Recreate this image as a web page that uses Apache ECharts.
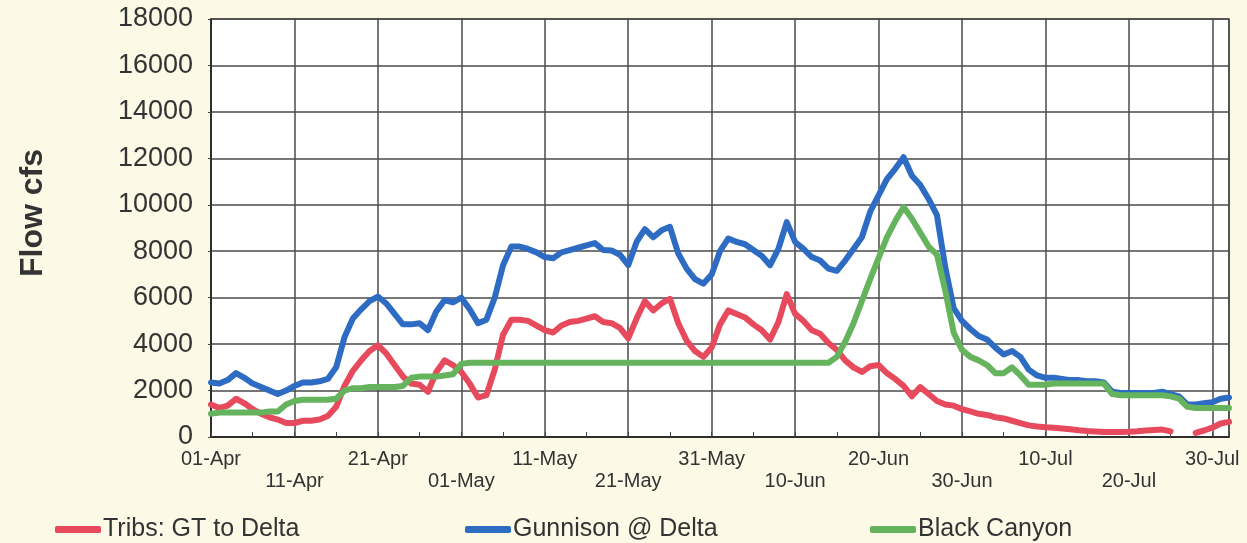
<!DOCTYPE html>
<html><head><meta charset="utf-8">
<script src="https://cdn.jsdelivr.net/npm/echarts@6/dist/echarts.min.js"></script>
<style>html,body{margin:0;padding:0;background:#fcf9e6;}#c{width:1247px;height:543px;}</style>
</head><body><div id="c"></div>
<script>
// x tick labels every 10 days starting 01-Apr (day index 0)
const xTickLabels = ['01-Apr','11-Apr','21-Apr','01-May','11-May','21-May','31-May','10-Jun','20-Jun','30-Jun','10-Jul','20-Jul','30-Jul'];
const seriesNames = ['Tribs: GT to Delta','Gunnison @ Delta','Black Canyon'];

// daily flow (cfs), day 0 = 01-Apr
const tribsGTtoDelta = [
1400,1250,1350,1650,1450,1200,1000,850,750,600,
600,700,700,750,900,1300,2200,2850,3300,3700,
3950,3600,3100,2600,2300,2250,1950,2800,3300,3100,
2800,2300,1700,1800,2900,4400,5050,5050,5000,4800,
4600,4500,4800,4950,5000,5100,5200,4950,4900,4700,
4250,5100,5850,5450,5750,5950,4900,4150,3700,3450,
3850,4850,5450,5300,5150,4850,4600,4200,4950,6150,
5300,5000,4600,4450,4050,3750,3300,3000,2800,3050,
3100,2750,2500,2200,1750,2150,1850,1550,1400,1350,
1200,1100,1000,950,850,800,700,600,500,450,
420,400,370,330,290,260,240,220,220,220,
230,250,280,300,320,240,null,null,180,280,
400,580,650
];
const gunnisonAtDelta = [
2350,2300,2450,2750,2550,2300,2150,2000,1850,2000,
2200,2350,2350,2400,2500,3000,4300,5100,5500,5850,
6050,5750,5300,4850,4850,4900,4600,5400,5900,5800,
6000,5500,4900,5050,6000,7400,8200,8200,8100,7950,
7750,7700,7950,8050,8150,8250,8350,8050,8030,7850,
7400,8400,8950,8600,8900,9050,7900,7250,6800,6600,
7000,8000,8550,8400,8300,8050,7800,7400,8100,9250,
8400,8100,7750,7600,7250,7150,7600,8100,8600,9700,
10400,11100,11550,12050,11250,10850,10250,9550,7300,5550,
5000,4650,4350,4200,3850,3550,3700,3450,2900,2650,
2550,2550,2500,2450,2450,2400,2400,2350,1950,1900,
1900,1900,1900,1900,1950,1850,1750,1400,1400,1450,
1500,1650,1700
];
const blackCanyon = [
1000,1050,1050,1050,1050,1050,1050,1100,1100,1400,
1550,1600,1600,1600,1600,1650,2000,2100,2100,2150,
2150,2150,2150,2200,2550,2600,2600,2600,2650,2700,
3150,3200,3200,3200,3200,3200,3200,3200,3200,3200,
3200,3200,3200,3200,3200,3200,3200,3200,3200,3200,
3200,3200,3200,3200,3200,3200,3200,3200,3200,3200,
3200,3200,3200,3200,3200,3200,3200,3200,3200,3200,
3200,3200,3200,3200,3200,3450,4100,4900,5850,6800,
7700,8600,9300,9900,9400,8800,8200,7850,6300,4500,
3750,3450,3300,3100,2750,2750,3000,2650,2250,2250,
2250,2300,2300,2300,2300,2300,2300,2300,1850,1800,
1800,1800,1800,1800,1800,1750,1650,1300,1250,1250,
1250,1250,1250
];
const seriesColors = ['#e64a5c','#2d6cc2','#66b35e'];

const FONT = "'Liberation Sans', Arial, sans-serif";
const chart = echarts.init(document.getElementById('c'), null, {renderer:'canvas'});
const toPairs = arr => arr.map((v,i)=>[i,v]);
const allData = [tribsGTtoDelta, gunnisonAtDelta, blackCanyon];

const legendLefts = [55, 465, 870];
chart.setOption({
  backgroundColor: '#fcf9e6',
  animation: false,
  grid: {left: 211, right: 18, top: 19, bottom: 106, show: true, backgroundColor: '#ffffff', borderColor: '#4a4a4a', borderWidth: 1.5},
  legend: seriesNames.map((n,i)=>({
    data: [n], left: legendLefts[i], top: 517, padding: 0,
    icon: 'roundRect', itemWidth: 46, itemHeight: 7, itemGap: 4,
    textStyle: {fontFamily: FONT, fontSize: 25, color: '#333', padding: [0,0,0,-3]}
  })),
  xAxis: {
    type: 'value', min: 0, max: 122, interval: 10,
    axisLine: {show: true, lineStyle: {color: '#222', width: 1.5}},
    axisTick: {show: true, inside: true, length: 5, lineStyle: {color: '#444'}},
    minorTick: {show: true, splitNumber: 2, length: 5, lineStyle: {color: '#444', width: 1}},
    splitLine: {show: true, lineStyle: {color: '#4a4a4a', width: 1.5}},
    axisLabel: {
      fontFamily: FONT, fontSize: 20, color: '#333', margin: 11, lineHeight: 22,
      showMaxLabel: false,
      formatter: function(v){
        if (v % 10 !== 0) return '';
        const k = v/10;
        const t = xTickLabels[k] || '';
        return (k % 2 === 1) ? '\n' + t : t;
      }
    }
  },
  yAxis: {
    type: 'value', min: 0, max: 18000, interval: 2000, offset: 4,
    name: 'Flow cfs', nameLocation: 'middle', nameGap: 158,
    nameTextStyle: {fontFamily: FONT, fontSize: 32, fontWeight: 'bold', color: '#333', padding: [0,0,0,30]},
    axisLine: {show: true, lineStyle: {color: '#222', width: 1.5}},
    axisTick: {show: true, length: 3, lineStyle: {color: '#444'}},
    splitLine: {show: true, lineStyle: {color: '#4a4a4a', width: 1.5}},
    axisLabel: {fontFamily: FONT, fontSize: 27, color: '#333', margin: 14, formatter: v => String(v)}
  },
  series: seriesNames.map((n,i)=>({
    name: n, type: 'line', data: toPairs(allData[i]),
    showSymbol: false, symbol: 'none', connectNulls: false,
    lineStyle: {color: seriesColors[i], width: 6, cap: 'round', join: 'round'},
    itemStyle: {color: seriesColors[i]},
    z: 2 + i
  }))
});
</script></body></html>
